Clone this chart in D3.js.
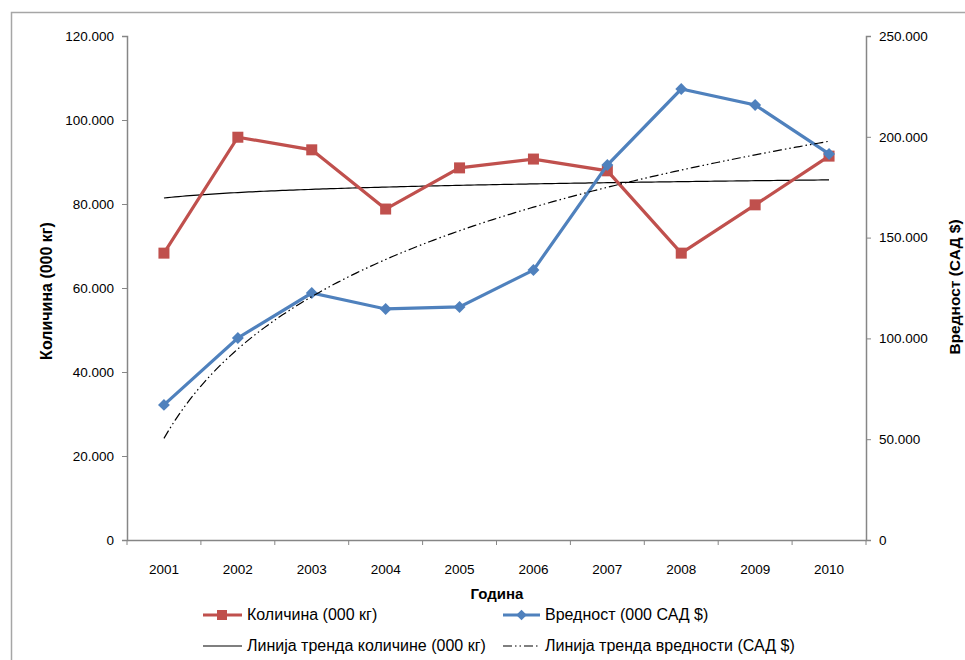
<!DOCTYPE html>
<html>
<head>
<meta charset="utf-8">
<script src="https://cdn.jsdelivr.net/npm/d3@7"></script>
<style>
  body { margin: 0; background: #fff; }
  text { font-family: "Liberation Sans", Arial, sans-serif; fill: #000; }
</style>
</head>
<body>
<svg id="chart"></svg>
<script>
// data
var years = ['2001', '2002', '2003', '2004', '2005', '2006', '2007', '2008', '2009', '2010'];
var kolicina = [68300, 95900, 92900, 78800, 88600, 90700, 87900, 68300, 79800, 91400];
var vrednost = [67000, 100200, 122500, 114600, 115600, 133900, 186000, 223700, 215800, 191500];
var leftTicks = [0, 20000, 40000, 60000, 80000, 100000, 120000];
var rightTicks = [0, 50000, 100000, 150000, 200000, 250000];

var svg = d3.select('#chart').attr('width', 965).attr('height', 660);

// outer frame
svg.append('rect')
    .attr('x', 11.5).attr('y', 12.5)
    .attr('width', 1000).attr('height', 700)
    .attr('fill', 'none').attr('stroke', '#a6a6a6').attr('stroke-width', 1.5);

var fmt = d3.formatLocale({decimal: ',', thousands: '.', grouping: [3], currency: ['', '$']}).format(',');

var x = d3.scaleBand().domain(years).range([127, 866]);
var yL = d3.scaleLinear().domain([0, 120000]).range([540, 36]);
var yR = d3.scaleLinear().domain([0, 250000]).range([540, 36]);
var cx = function(i) { return x(years[i]) + x.bandwidth() / 2; };

// axes
var axL = svg.append('g').attr('transform', 'translate(127,0)')
    .call(d3.axisLeft(yL).tickValues(leftTicks).tickFormat(fmt).tickSize(5).tickPadding(8));
var axR = svg.append('g').attr('transform', 'translate(866,0)')
    .call(d3.axisRight(yR).tickValues(rightTicks).tickFormat(fmt).tickSize(5).tickPadding(8));
var axB = svg.append('g').attr('transform', 'translate(0,540)')
    .call(d3.axisBottom(x).tickSize(0).tickPadding(24));

// x ticks sit on the band edges
axB.selectAll('.edge')
    .data(years.concat(['end']))
    .enter().append('line')
    .attr('x1', function(d, i) { return i < years.length ? x(d) : x.range()[1]; })
    .attr('x2', function(d, i) { return i < years.length ? x(d) : x.range()[1]; })
    .attr('y1', 0).attr('y2', 5)
    .attr('stroke', '#868686');

[axL, axR, axB].forEach(function(a) {
    a.select('.domain').attr('stroke', '#868686').attr('stroke-width', 1.5);
    a.selectAll('.tick line').attr('stroke', '#868686');
    a.selectAll('text').style('font-size', '13.5px').style('font-family', '"Liberation Sans", Arial, sans-serif').attr('fill', '#000');
});

// axis titles
svg.append('text')
    .attr('transform', 'translate(52,291) rotate(-90)')
    .attr('text-anchor', 'middle')
    .style('font-size', '16px').style('font-weight', 'bold')
    .text('Количина (000 кг)');

svg.append('text')
    .attr('transform', 'translate(960,287) rotate(-90)')
    .attr('text-anchor', 'middle')
    .style('font-size', '15.5px').style('font-weight', 'bold')
    .text('Вредност (САД $)');

svg.append('text')
    .attr('x', 497).attr('y', 599)
    .attr('text-anchor', 'middle')
    .style('font-size', '15px').style('font-weight', 'bold')
    .text('Година');

// logarithmic trend (least squares on ln of category number), like the spreadsheet does
function logTrend(vals) {
    var lx = vals.map(function(v, i) { return Math.log(i + 1); });
    var mx = d3.mean(lx), my = d3.mean(vals);
    var sxy = d3.sum(vals, function(v, i) { return (lx[i] - mx) * (v - my); });
    var sxx = d3.sum(lx, function(l) { return (l - mx) * (l - mx); });
    var b = sxy / sxx, a = my - b * mx;
    return function(n) { return a + b * Math.log(n); };
}

var xIdx = d3.scaleLinear().domain([1, years.length]).range([cx(0), cx(years.length - 1)]);
var steps = d3.range(1, years.length + 0.001, 0.05);

var trendK = logTrend(kolicina);
var trendV = logTrend(vrednost);

svg.append('path')
    .attr('d', d3.line().x(function(n) { return xIdx(n); }).y(function(n) { return yL(trendK(n)); })(steps))
    .attr('fill', 'none').attr('stroke', '#000').attr('stroke-width', 1.2);

// series lines
var lineK = d3.line().x(function(d, i) { return cx(i); }).y(function(d) { return yL(d); });
var lineV = d3.line().x(function(d, i) { return cx(i); }).y(function(d) { return yR(d); });

svg.append('path').attr('d', lineK(kolicina))
    .attr('fill', 'none').attr('stroke', '#C0504D').attr('stroke-width', 3.2);
svg.selectAll('.sq').data(kolicina).enter().append('rect')
    .attr('x', function(d, i) { return cx(i) - 5.5; })
    .attr('y', function(d) { return yL(d) - 5.5; })
    .attr('width', 11).attr('height', 11)
    .attr('fill', '#C0504D');

svg.append('path').attr('d', lineV(vrednost))
    .attr('fill', 'none').attr('stroke', '#4F81BD').attr('stroke-width', 3.2);
svg.selectAll('.dm').data(vrednost).enter().append('path')
    .attr('d', d3.symbol().type(d3.symbolDiamond2).size(90))
    .attr('transform', function(d, i) { return 'translate(' + cx(i) + ',' + yR(d) + ')'; })
    .attr('fill', '#4F81BD');

svg.append('path')
    .attr('d', d3.line().x(function(n) { return xIdx(n); }).y(function(n) { return yR(trendV(n)); })(steps))
    .attr('fill', 'none').attr('stroke', '#000').attr('stroke-width', 1.2)
    .attr('stroke-dasharray', '9,3,1.5,3,1.5,3');

// legend
var lg = svg.append('g');
lg.append('line').attr('x1', 203).attr('x2', 242).attr('y1', 615).attr('y2', 615)
    .attr('stroke', '#C0504D').attr('stroke-width', 3.2);
lg.append('rect').attr('x', 217).attr('y', 610).attr('width', 10).attr('height', 10).attr('fill', '#C0504D');
lg.append('text').attr('x', 247).attr('y', 620).style('font-size', '16px').text('Количина (000 кг)');

lg.append('line').attr('x1', 503).attr('x2', 540).attr('y1', 615).attr('y2', 615)
    .attr('stroke', '#4F81BD').attr('stroke-width', 3.2);
lg.append('path').attr('d', d3.symbol().type(d3.symbolDiamond2).size(70))
    .attr('transform', 'translate(521.5,615)').attr('fill', '#4F81BD');
lg.append('text').attr('x', 545).attr('y', 620).style('font-size', '16px').text('Вредност (000 САД $)');

lg.append('line').attr('x1', 203).attr('x2', 242).attr('y1', 646).attr('y2', 646)
    .attr('stroke', '#555').attr('stroke-width', 1.5);
lg.append('text').attr('x', 247).attr('y', 651).style('font-size', '16px').text('Линија тренда количине (000 кг)');

lg.append('line').attr('x1', 503).attr('x2', 540).attr('y1', 646).attr('y2', 646)
    .attr('stroke', '#555').attr('stroke-width', 1.5).attr('stroke-dasharray', '9,3,1.5,3,1.5,3');
lg.append('text').attr('x', 545).attr('y', 651).style('font-size', '16px').text('Линија тренда вредности (САД $)');
</script>
</body>
</html>
